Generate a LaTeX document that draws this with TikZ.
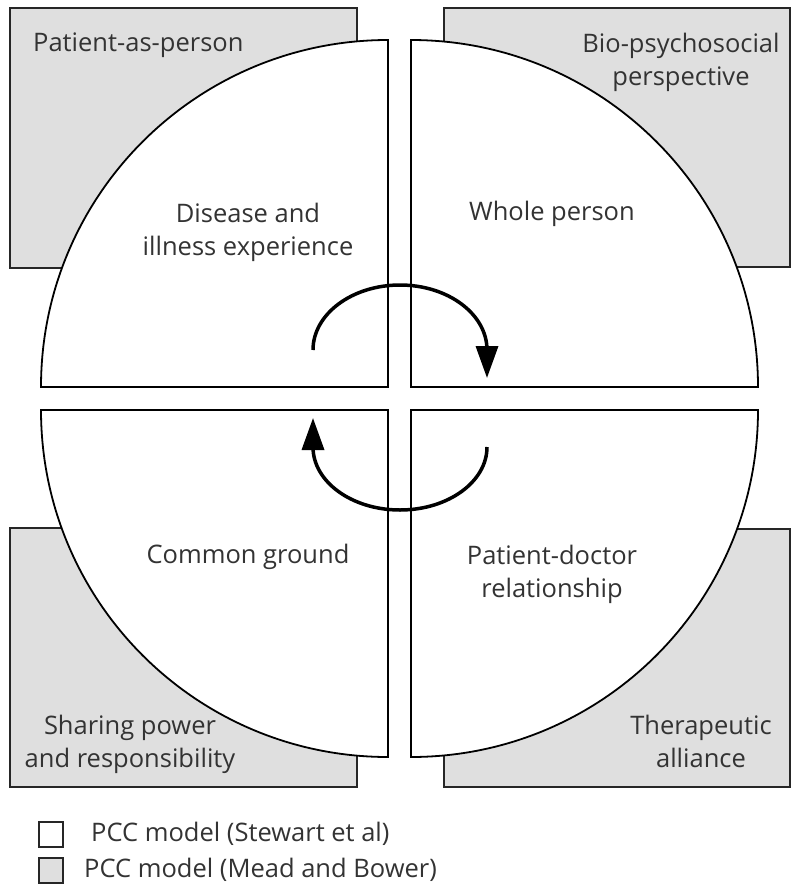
\documentclass[tikz,border=0pt]{standalone}
\usepackage{fontspec}
\setmainfont{Open Sans}
\usepackage{xcolor}
\usepackage{tikz}
\usetikzlibrary{positioning,arrows.meta}
\definecolor{shade}{HTML}{DFDFDF}
\definecolor{inkgray}{HTML}{333333}

\begin{document}
\begin{tikzpicture}[x=1pt,y=1pt,
  every node/.style={inner sep=0pt,align=center,text=inkgray,font=\fontsize{25.5}{33}\selectfont},
  graybox/.style={draw=black!85,line width=2.2pt,fill=shade},
  quarter/.style={draw=black,line width=1.8pt,fill=white},
  turn/.style={line width=3.5pt,-{Triangle[length=32pt,width=22pt]}},
  keybox/.style={draw=black!85,line width=2pt,minimum width=24pt,minimum height=25pt}]
  \useasboundingbox (0,0) rectangle (795,-891);
  % Mead and Bower dimensions
  \draw[graybox] (10,-8) rectangle (357,-268);
  \draw[graybox] (444,-8) rectangle (790,-267);
  \draw[graybox] (10,-528) rectangle (357,-787);
  \draw[graybox] (444,-529) rectangle (790,-787);
  % Stewart quadrants
  \draw[quarter] (388,-387) -- (388,-40) arc[start angle=90,end angle=180,radius=347pt] -- cycle;
  \draw[quarter] (411,-387) -- (411,-40) arc[start angle=90,end angle=0,radius=347pt] -- cycle;
  \draw[quarter] (388,-410) -- (388,-757) arc[start angle=270,end angle=180,radius=347pt] -- cycle;
  \draw[quarter] (411,-410) -- (411,-757) arc[start angle=270,end angle=360,radius=347pt] -- cycle;
  % base = last line of a two-line node
  \node[anchor=base west] (asperson) at (33,-52) {Patient-as-person};
  \node[anchor=base] (biopsy) at (681,-85) {Bio-psychosocial\\perspective};
  \node[anchor=base] (sharing) at (130,-767) {Sharing power\\and responsibility};
  \node[anchor=base] (alliance) at (701,-767) {Therapeutic\\alliance};
  \node[anchor=base] (disease) at (248,-255) {Disease and\\illness experience};
  \node[anchor=base] (whole) at (552,-220) {Whole person};
  \node[anchor=base] (common) at (248,-563) {Common ground};
  \node[anchor=base] (relation) at (552,-597) {Patient-doctor\\relationship};
  % cycle arrows
  \coordinate (t0) at (313,-350);
  \coordinate (t1) at (487,-378);
  \coordinate (b0) at (487,-447);
  \coordinate (b1) at (313,-418);
  \draw[turn] (t0) arc[start angle=180,end angle=0,x radius=87pt,y radius=65pt] -- (t1);
  \draw[turn] (b0) arc[start angle=0,end angle=-180,x radius=87pt,y radius=63pt] -- (b1);
  % key
  \node[keybox] (keyS) at (51,-834) {};
  \node[keybox,fill=shade] (keyM) at (51,-870) {};
  \node[right=27pt of keyS] (stewart) {PCC model (Stewart et al)};
  \node[right=20pt of keyM] (mead) {PCC model (Mead and Bower)};
\end{tikzpicture}
\end{document}
